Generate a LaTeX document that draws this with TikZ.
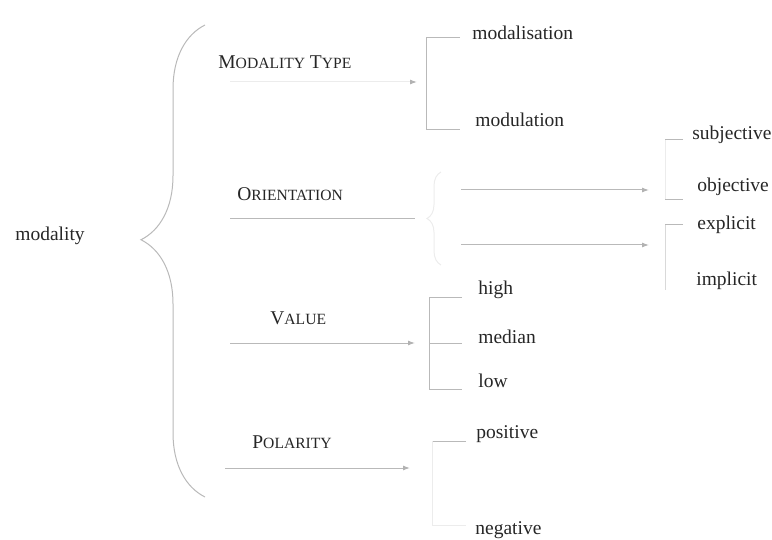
\documentclass[tikz,border=0pt]{standalone}
\usepackage{fontspec}
\setmainfont{Liberation Serif}
\usetikzlibrary{arrows.meta, decorations.pathreplacing}
\newcommand{\fsc}[2]{#1{\fontsize{7.8pt}{9pt}\selectfont #2}}

\begin{document}
\begin{tikzpicture}[x=0.5pt, y=-0.5pt,
		every node/.style={font=\fontsize{9.75pt}{12pt}\selectfont, text=black!85},
		term/.style={anchor=west, inner sep=0pt},
		wire/.style={draw=gray!55, line width=0.5pt},
		faint/.style={draw=gray!15, line width=0.5pt},
		tip/.style={-{Latex[length=3.5pt, width=2.5pt, color=gray!60]}}]
		\useasboundingbox (0,0) rectangle (772,540);
		
		% entry condition and systems
		\node[term] (modality) at (15,236) {modality};
		\node[term] (type) at (218,62) {\fsc{M}{ODALITY} \fsc{T}{YPE}};
		\node[term] (orient) at (237,194) {\fsc{O}{RIENTATION}};
		\node[term] (value) at (270,318) {\fsc{V}{ALUE}};
		\node[term] (polar) at (252,442) {\fsc{P}{OLARITY}};
		
		% features
		\node[term] (mdl) at (472,33) {modalisation};
		\node[term] (mdu) at (475,120) {modulation};
		\node[term] (subj) at (692,135) {subjective};
		\node[term] (obj) at (697,187) {objective};
		\node[term] (expl) at (697,225) {explicit};
		\node[term] (impl) at (696,281) {implicit};
		\node[term] (high) at (478,290) {high};
		\node[term] (med) at (478,337) {median};
		\node[term] (low) at (478,381) {low};
		\node[term] (pos) at (476,434) {positive};
		\node[term] (neg) at (475,530) {negative};
		
		% junctions
		\coordinate (type-s) at (230,82);
		\coordinate (type-e) at (417,82);
		\coordinate (or-s) at (230,219);
		\coordinate (or-e) at (415,219);
		\coordinate (sub-s) at (461,190);
		\coordinate (sub-e) at (649,190);
		\coordinate (exp-s) at (461,245);
		\coordinate (exp-e) at (649,245);
		\coordinate (val-s) at (230,343);
		\coordinate (val-e) at (415,343);
		\coordinate (pol-s) at (225,468);
		\coordinate (pol-e) at (410,468);
		
		% big brace
		\draw[wire, decorate, decoration={brace, amplitude=32pt, aspect=0.545}]
			(205,497) -- (205,25);
		
		% modality type
		\draw[faint, tip] (type-s) -- (type-e);
		\draw[wire] (mdl.west) ++(-12,5) -- (426,38) -- (426,130) -- ++(34,0);
		
		% orientation
		\draw[wire] (or-s) -- (or-e);
		\draw[faint, decorate, decoration={brace, amplitude=7pt}] (441,265) -- (441,172);
		\draw[wire, tip] (sub-s) -- (sub-e);
		\draw[wire, tip] (exp-s) -- (exp-e);
		\draw[wire] (683,140) -- (665,140);
		\draw[faint] (665,140) -- (665,200);
		\draw[wire] (665,200) -- (683,200);
		\draw[wire] (683,225) -- (665,225);
		\draw[draw=gray!30, line width=0.5pt] (665,225) -- (665,290);
		
		% value
		\draw[wire, tip] (val-s) -- (val-e);
		\draw[wire] (462,297) -- (429,297) -- (429,389) -- (462,389);
		\draw[wire] (429,343) -- (462,343);
		
		% polarity
		\draw[wire, tip] (pol-s) -- (pol-e);
		\draw[wire] (466,441) -- (432,441);
		\draw[faint] (432,441) -- (432,525) -- (466,525);
	\end{tikzpicture}
\end{document}
